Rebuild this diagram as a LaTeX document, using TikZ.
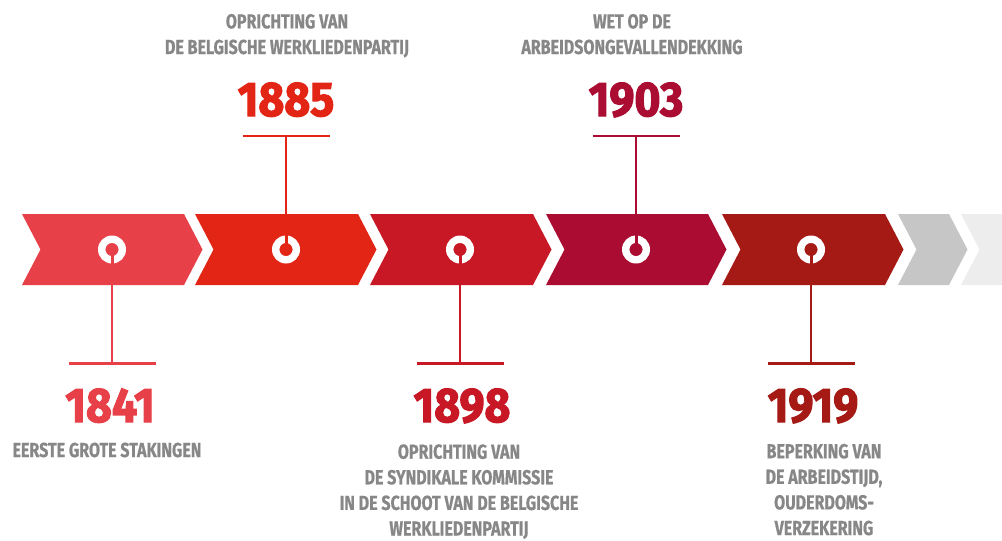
\documentclass[tikz,border=0pt]{standalone}
\usepackage{fontspec}
\usetikzlibrary{calc}
\setmainfont{Fira Sans}
\newfontfamily\condfont{Fira Sans}[FakeStretch=0.79,FakeBold=0.7]
\newfontfamily\yrfont{Fira Sans}[FakeStretch=0.92,FakeBold=2.4]
\newcommand\graytxt{\condfont\bfseries\fontsize{20.3}{25.6}\selectfont}
\newcommand\yeartxt{\yrfont\bfseries\fontsize{48.5}{50}\selectfont}
\definecolor{cA}{RGB}{232,64,72}
\definecolor{cB}{RGB}{227,37,22}
\definecolor{cC}{RGB}{200,23,37}
\definecolor{cD}{RGB}{170,12,50}
\definecolor{cE}{RGB}{166,26,22}
\definecolor{gF}{RGB}{198,198,198}
\definecolor{gG}{RGB}{237,237,237}
\definecolor{txtgray}{RGB}{135,135,135}
\newcommand\chev[3]{\fill[#3] (#1,214) -- (#2,214) -- ({#2+18.5},249.5) -- (#2,285) -- (#1,285) -- ({#1+18.5},249.5) -- cycle;}
\begin{document}
\begin{tikzpicture}[x=1pt,y=-1pt,
  lbl/.style={font=\graytxt, text=txtgray, align=center, inner sep=0pt, anchor=base},
  yr/.style={font=\yeartxt, inner sep=0pt, anchor=base},
  conn/.style={line width=2.2pt},
  slit/.style={line width=3pt},
  ring/.style={fill=white, even odd rule}]
\useasboundingbox (0,0) rectangle (1002,541);
% chevrons
\chev{22}{184}{cA}
\chev{195}{358}{cB}
\chev{370}{533}{cC}
\chev{546}{708}{cD}
\chev{722}{885}{cE}
\chev{898}{949}{gF}
\fill[gG] (961,214) -- (1002,214) -- (1002,285) -- (961,285) -- (979.5,249.5) -- cycle;
% ring centres, chevron edges, bar ends
\coordinate (r1) at (112,249.5); \coordinate (e1) at (112,285); \coordinate (b1) at (112,363.5);
\coordinate (r2) at (286,249.5); \coordinate (e2) at (286,214); \coordinate (b2) at (286,136);
\coordinate (r3) at (460,249.5); \coordinate (e3) at (460,285); \coordinate (b3) at (460,363.5);
\coordinate (r4) at (636,249.5); \coordinate (e4) at (636,214); \coordinate (b4) at (636,136);
\coordinate (r5) at (811,249.5); \coordinate (e5) at (811,285); \coordinate (b5) at (811,363.5);
\foreach \i in {1,...,5}{
  \coordinate (bl\i) at ($(b\i)+(-43.5,0)$);
  \coordinate (br\i) at ($(b\i)+(43.5,0)$);
}
% rings
\foreach \i/\c in {1/cA,2/cB,3/cC,4/cD,5/cE}{
  \fill[ring] (r\i) circle[radius=14pt] (r\i) circle[radius=6.6pt];
  \draw[slit,\c] (r\i) -- (e\i);
  \draw[conn,\c] (e\i) -- (b\i);
  \draw[conn,\c] (bl\i) -- (br\i);
}
% years
\node[yr,text=cA] (y1) at (110,422) {1841};
\node[yr,text=cB] (y2) at (286,116) {1885};
\node[yr,text=cC] (y3) at (462,422) {1898};
\node[yr,text=cD] (y4) at (636,116) {1903};
\node[yr,text=cE] (y5) at (813,422) {1919};
% labels (anchored at the baseline of the last line)
\node[lbl] (t1) at (107,457) {EERSTE GROTE STAKINGEN};
\node[lbl] (t2) at (287,54) {OPRICHTING VAN\\DE BELGISCHE WERKLIEDENPARTIJ};
\node[lbl] (t3) at (459,535.5) {OPRICHTING VAN\\DE SYNDIKALE KOMMISSIE\\IN DE SCHOOT VAN DE BELGISCHE\\WERKLIEDENPARTIJ};
\node[lbl] (t4) at (632,54) {WET OP DE\\ARBEIDSONGEVALLENDEKKING};
\node[lbl] (t5) at (824,535) {BEPERKING VAN\\DE ARBEIDSTIJD,\\OUDERDOMS-\\VERZEKERING};
\end{tikzpicture}
\end{document}
